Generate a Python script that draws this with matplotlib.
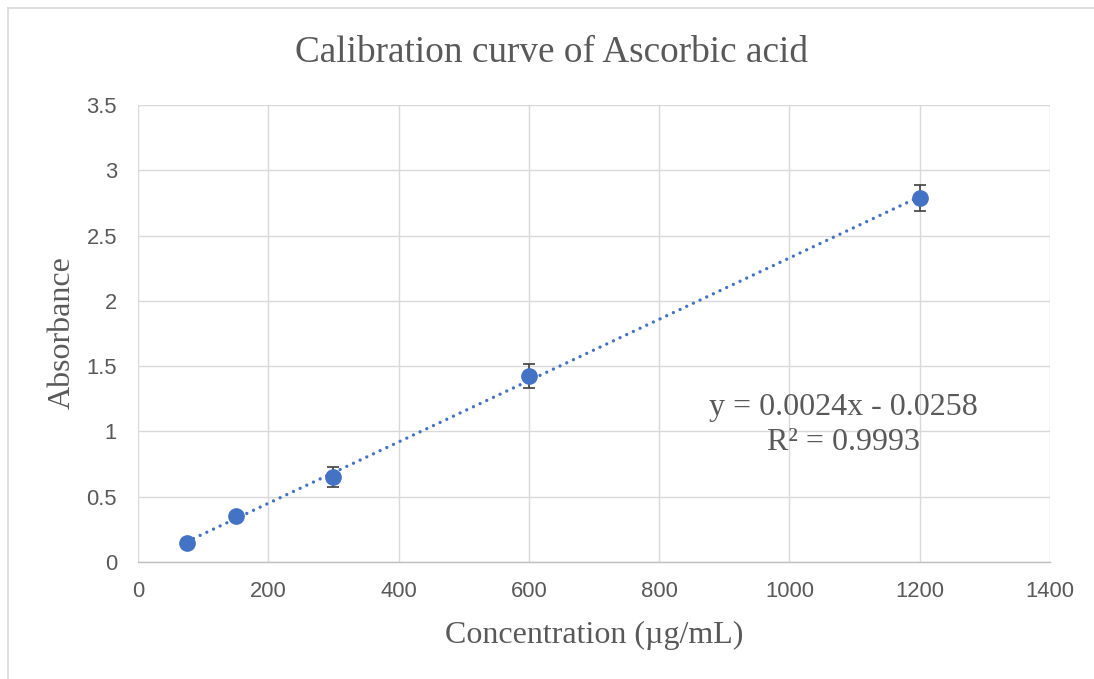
"""
Calibration curve of ascorbic acid: absorbance vs concentration with
error bars and a dotted linear trendline (Excel look).
"""

import numpy as np
import matplotlib.pyplot as plt
from matplotlib.lines import Line2D

# data
concentration = [75, 150, 300, 600, 1200]          # ug/mL
absorbance = [0.145, 0.352, 0.651, 1.424, 2.787]
abs_error = [0.01, 0.012, 0.077, 0.09, 0.098]

x_ticks = [0, 200, 400, 600, 800, 1000, 1200, 1400]
y_ticks = [0, 0.5, 1, 1.5, 2, 2.5, 3, 3.5]
y_tick_labels = ["0", "0.5", "1", "1.5", "2", "2.5", "3", "3.5"]

eq_slope = 0.0024
eq_intercept = -0.0258
r_squared = 0.9993

BLUE = "#4472C4"
GRID = "#d9d9d9"
TEXT = "#595959"
SERIF = "Liberation Serif"
SANS = "Liberation Sans"


def main():
    fig = plt.figure(figsize=(10.94, 6.79), dpi=100)
    ax = fig.add_axes([0.1261, 0.1723, 0.8337, 0.6731])

    # trendline fitted on the data
    slope, intercept = np.polyfit(concentration, absorbance, 1)
    xs = np.array([min(concentration), max(concentration)])
    ax.plot(xs, slope * xs + intercept, color=BLUE, lw=2.4,
            linestyle=(0, (0.01, 2.2)), dash_capstyle="round", zorder=3)

    ax.errorbar(concentration, absorbance, yerr=abs_error, fmt="none",
                ecolor="#404040", elinewidth=1.2, capsize=4.3, capthick=1.2,
                zorder=2)
    ax.plot(concentration, absorbance, "o", color=BLUE, ms=11, zorder=4)

    ax.set_xlim(0, 1400)
    ax.set_ylim(0, 3.5)
    ax.set_xticks(x_ticks)
    ax.set_yticks(y_ticks)
    ax.set_yticklabels(y_tick_labels)
    ax.tick_params(length=0, labelsize=15.8, labelcolor=TEXT)
    ax.tick_params(axis="y", pad=15)
    ax.tick_params(axis="x", pad=14)
    for lab in ax.get_xticklabels() + ax.get_yticklabels():
        lab.set_fontfamily(SANS)

    ax.grid(True, color=GRID, lw=1.0)
    ax.set_axisbelow(True)
    for side in ["top", "right", "left"]:
        ax.spines[side].set_visible(False)
    ax.spines["bottom"].set_color("#bfbfbf")
    ax.spines["bottom"].set_linewidth(1.0)

    fig.text(0.5042, 0.922, "Calibration curve of Ascorbic acid", ha="center",
             va="center", fontsize=26.8, family=SERIF, color=TEXT)
    fig.text(0.543, 0.064, "Concentration (\u00b5g/mL)", ha="center",
             va="center", fontsize=23, family=SERIF, color=TEXT)
    fig.text(0.057, 0.51, "Absorbance", ha="center", va="center",
             rotation=90, fontsize=23, family=SERIF, color=TEXT)

    sign = "-" if eq_intercept < 0 else "+"
    ax.text(0.7706, 0.400, f"y = {eq_slope:.4f}x {sign} {abs(eq_intercept):.4f}",
            transform=fig.transFigure, ha="center", va="center",
            fontsize=23, family=SERIF, color=TEXT)
    ax.text(0.7706, 0.348, f"R\u00b2 = {r_squared:.4f}",
            transform=fig.transFigure, ha="center", va="center",
            fontsize=23, family=SERIF, color=TEXT)

    # chart area border (left and top edges visible)
    fig.add_artist(Line2D([0.0073, 0.0073], [0, 0.988], color=GRID, lw=1.2))
    fig.add_artist(Line2D([0.0073, 1.0], [0.988, 0.988], color=GRID, lw=1.2))

    fig.savefig("out.png", dpi=100)
    plt.close(fig)


if __name__ == "__main__":
    main()
